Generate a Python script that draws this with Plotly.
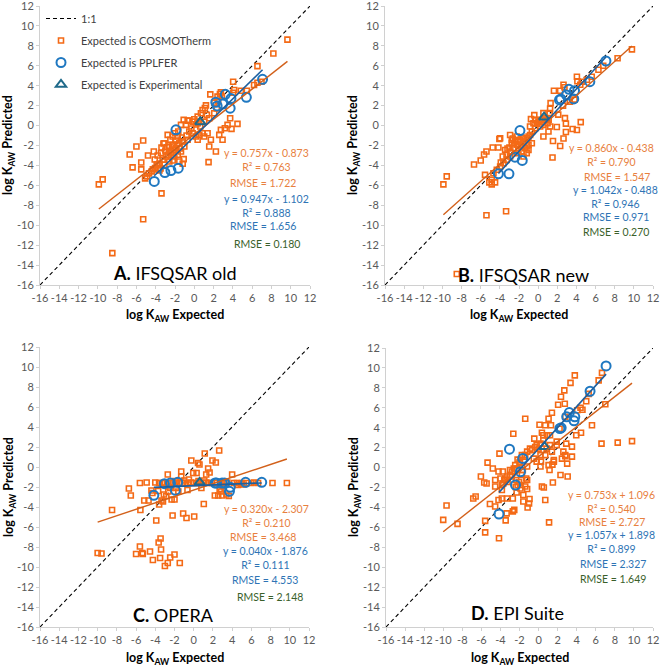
import plotly.graph_objects as go

# ---------------- data ----------------
axis_range = [-16, 12]
tick_vals = list(range(-16, 13, 2))
tick_text = [str(v) for v in tick_vals]
panel_titles = ["A.", "B.", "C.", "D."]
panel_names = ["IFSQSAR old", "IFSQSAR new", "OPERA", "EPI Suite"]

cosmo_slope = [0.757, 0.860, 0.320, 0.753]
cosmo_intercept = [-0.873, -0.438, -2.307, 1.096]
cosmo_r2 = [0.763, 0.790, 0.210, 0.540]
cosmo_rmse = [1.722, 1.547, 3.468, 2.727]
pplfer_slope = [0.947, 1.042, 0.040, 1.057]
pplfer_intercept = [-1.102, -0.488, -1.876, 1.898]
pplfer_r2 = [0.888, 0.946, 0.111, 0.899]
pplfer_rmse = [1.656, 0.971, 4.553, 2.327]
exp_rmse = [0.180, 0.270, 2.148, 1.649]

# Expected is COSMOTherm (x = expected, y = predicted)
a_cosmo = [(-9.9,-5.9),(-9.5,-5.4),(-8.5,-12.8),(-6.7,-2.9),(-6.4,-4.2),(-6.0,-2.1),(-5.5,-3.7),(-5.3,-1.5),
           (-5.5,-4.4),(-5.3,-9.4),(-4.8,-3.0),(-5.1,-5.3),(-4.9,-5.1),(-4.7,-4.8),(-4.3,-4.4),(-4.2,-2.6),
           (-4.1,-3.4),(-3.8,-3.0),(-3.6,-3.8),(-3.4,-6.8),(-3.2,-1.8),(-3.5,-4.3),(-3.9,-3.9),(-3.45,-2.77),
           (-3.28,-3.43),(-3.8,-3.93),(-4.07,-4.27),(-4.41,-4.6),(-3.62,-4.5),(-2.93,-3.1),(-2.76,-2.93),
           (-2.41,-2.77),(-2.07,-3.1),(-2.59,-3.6),(-3.1,-3.93),(-2.24,-3.5),(-1.72,-2.93),(-1.38,-2.6),
           (-1.55,-3.6),(-1.1,-3.37),(-1.2,-3.83),(-2.76,-0.93),(-3.1,-1.77),(-2.83,-2.17),(-2.59,-2.1),
           (-2.24,-1.93),(-2.14,-2.43),(-1.9,-2.27),(-1.55,-1.77),(-1.2,-1.6),(-1.03,-2.1),(-0.69,-1.43),
           (-2.48,-1.43),(-1.72,-1.1),(-2.24,-1.1),(-2.0,-0.77),(-1.66,-0.6),(-1.38,0.07),(-0.86,0.07),
           (-1.1,0.57),(-0.69,0.5),(-0.52,0.5),(-0.17,0.4),(0.0,0.63),(0.35,0.9),(0.69,1.23),(0.86,1.57),
           (1.1,1.77),(1.21,2.03),(1.66,3.13),(2.07,2.3),(2.41,2.9),(2.48,2.47),(2.66,3.17),(2.76,3.33),
           (2.86,2.9),(4.03,4.4),(4.03,3.3),(4.14,3.57),(4.83,3.5),(5.45,3.5),(6.2,4.07),(6.55,4.3),
           (6.97,4.4),(6.55,5.97),(8.2,7.23),(9.66,8.63),(-0.52,-0.6),(-0.17,-0.77),(0.17,-1.1),(0.35,-1.43),
           (0.52,-0.93),(0.86,-0.77),(1.03,-1.1),(1.38,-0.77),(1.72,-1.43),(1.55,-2.1),(2.59,-0.93),
           (2.93,-1.43),(2.76,-0.43),(3.17,-0.27),(3.45,0.07),(3.72,0.73),(3.86,-0.33),(4.48,0.17),
           (2.24,-2.6),(1.48,-3.67),(0.35,0.23),(0.62,-0.1),(1.03,0.4),(1.31,1.07),(1.55,0.73),(2.07,1.23),
           (2.34,1.73),(-1.9,-1.5),(-2.2,-2.1),(-1.5,-2.3),(-0.8,-1.0),(-0.3,-0.3),(0.2,0.1),(-3.0,-2.5),
           (-3.4,-2.2),(-2.6,-2.6),(-1.8,-1.9),(-1.3,-1.2)]
b_cosmo = [(-9.9,-5.9),(-9.55,-5.1),(-5.4,-9.0),(-3.35,-8.6),(-6.7,-3.9),(-6.0,-3.5),(-5.65,-2.9),(-5.4,-2.6),
           (-4.75,-2.2),(-5.55,-4.95),(-5.1,-5.7),(-4.85,-5.9),(-4.5,-5.7),(-4.05,-1.35),(-4.15,-2.2),
           (-3.9,-3.7),(-3.7,-3.1),(-3.45,-2.45),(-3.2,-2.3),(-3.0,-2.2),(-2.75,-1.75),(-2.4,-1.45),
           (-2.25,-1.1),(-2.65,-1.3),(-2.05,-1.6),(-1.8,-2.1),(-1.55,-1.3),(-1.2,-2.1),(-1.0,-1.1),
           (-0.85,-0.1),(-0.75,0.65),(-0.4,1.05),(-0.15,0.2),(0.2,0.55),(0.55,1.25),(0.9,0.55),(1.2,1.25),
           (1.3,2.25),(1.65,3.5),(2.3,3.5),(2.65,4.1),(2.75,3.85),(4.05,4.9),(4.1,4.45),(4.4,4.1),(4.55,4.4),
           (5.1,4.6),(5.6,4.9),(6.3,5.6),(6.8,6.0),(8.3,6.75),(9.8,7.65),(0.55,-1.1),(1.55,-1.55),(1.5,-3.2),
           (2.3,-2.05),(2.65,-1.3),(2.9,-0.65),(2.8,0.75),(2.9,0.2),(4.05,-0.45),(3.6,-0.35),(4.45,0.35),
           (1.95,-0.15),(2.1,1.1),(1.25,1.7),(2.6,2.0),(3.3,2.4),(3.8,2.6),(1.1,0.6),(-8.5,-14.9),
           (-3.97,-1.27),(-2.93,-0.94),(-2.75,-1.44),(-2.4,-1.6),(-2.58,-2.27),(-2.06,-1.94),(-1.88,-1.44),
           (-1.53,-1.6),(-2.06,-2.44),(-1.71,-2.6),(-1.36,-2.27),(-1.01,-1.94),(-1.19,-1.27),(-0.84,-0.94),
           (-0.66,-0.6),(-0.31,-0.27),(-0.49,0.23),(0.03,0.4),(0.38,0.57),(0.73,0.74),(0.98,0.23),
           (1.26,-0.1),(1.08,-0.6),(-3.28,-3.44),(-2.93,-3.1),(-3.63,-3.78),(-3.97,-4.11),(-4.32,-4.44),
           (-4.67,-4.78),(-4.85,-5.45),(-2.23,-2.77),(-1.53,-3.1),(-1.19,-2.77),(-1.01,-2.44),(-0.66,-1.77),
           (0.21,-0.1),(0.56,0.07),(-0.31,0.57),(-2.2,-1.9),(-2.5,-1.9),(-1.7,-1.2),(-2.9,-2.6),(-3.3,-2.9)]
c_cosmo = [(-10.0,-8.6),(-9.6,-8.65),(-8.5,-4.3),(-6.75,-2.15),(-6.55,-2.85),(-6.0,-8.7),(-5.6,-7.95),
           (-5.6,-1.6),(-5.55,-4.3),(-5.35,-8.6),(-5.3,-8.7),(-5.15,-3.35),(-4.9,-1.55),(-4.7,-3.35),
           (-4.55,-8.45),(-4.4,-2.35),(-4.25,-9.3),(-3.9,-5.35),(-3.65,-7.55),(-3.45,-7.15),(-3.4,-8.25),
           (-3.5,-9.1),(-3.0,-9.9),(-2.7,-9.6),(-2.45,-9.05),(-2.0,-8.75),(-1.45,-9.6),(-3.6,-3.75),
           (-3.35,-3.35),(-3.2,-3.45),(-3.1,-2.75),(-2.85,-2.9),(-2.7,-0.75),(-2.65,-2.45),(-2.45,-2.1),
           (-2.3,-3.25),(-2.2,-4.85),(-2.0,-3.25),(-1.8,-2.1),(-1.6,-2.45),(-1.3,-0.45),(-1.3,-0.95),
           (-1.1,-4.65),(-0.75,-5.1),(-0.65,-2.3),(-0.25,0.65),(0.05,-4.95),(-0.05,-0.6),(0.3,-0.6),
           (0.45,0.4),(0.6,0.25),(0.8,-2.1),(1.05,-3.7),(1.15,1.35),(1.3,-0.75),(1.5,-0.15),(1.65,-0.55),
           (1.95,0.65),(2.3,0.45),(2.65,1.65),(2.2,-2.85),(2.55,-2.85),(2.7,-2.2),(2.85,-2.45),(2.95,-2.85),
           (3.4,-2.75),(3.65,-2.9),(4.0,-0.75),(3.0,-1.9),(-4.0,-1.55),(-3.6,-1.6),(-3.3,-1.6),(-3.0,-1.55),
           (-2.7,-1.6),(-2.4,-1.6),(-2.1,-1.55),(-1.8,-1.6),(-1.5,-1.6),(-1.2,-1.6),(-0.9,-1.6),(-0.6,-1.6),
           (-0.3,-1.55),(0.0,-1.6),(0.3,-1.6),(0.7,-1.6),(1.0,-1.6),(1.3,-1.55),(1.6,-1.6),(1.9,-1.6),
           (2.4,-1.6),(2.8,-1.6),(3.2,-1.6),(3.5,-1.55),(4.2,-1.6),(4.5,-1.6),(5.0,-1.6),(5.5,-1.6),
           (6.0,-1.6),(6.3,-1.55),(6.7,-1.6),(8.2,-1.6),(9.7,-1.6),(-1.9,-1.4),(-1.0,-1.35),(-0.5,-1.25),
           (0.5,-1.4),(1.1,-1.35),(4.6,-1.8),(-4.3,-2.6),(-3.7,-2.4),(5.2,-1.75),(4.9,-1.7)]
d_cosmo = [(-10.0,-5.25),(-9.65,-3.8),(-8.5,-5.65),(-5.6,-6.5),(-4.15,-7.1),(1.1,-5.5),(-6.85,-3.1),
           (-6.6,-2.9),(-6.05,-0.9),(-5.7,-1.5),(-5.45,-1.6),(-5.6,-5.35),(-5.35,0.5),(-5.1,-3.65),
           (-4.8,-0.1),(-4.55,-1.9),(-4.55,-3.9),(-4.1,1.4),(-4.2,-3.25),(-3.85,-3.1),(-3.75,-0.4),
           (-3.7,-1.6),(-3.5,-1.1),(-3.25,-1.45),(-3.35,-4.6),(-3.45,-5.3),(-2.7,-4.4),(-2.7,-3.1),
           (-2.65,3.4),(-2.55,-4.25),(-2.4,-1.95),(-2.3,-2.5),(-3.0,-0.75),(-2.8,-0.4),(-2.05,-1.45),
           (-1.95,0.6),(-2.3,-0.1),(-2.45,0.25),(-1.75,-0.75),(-1.9,-1.75),(-1.6,-2.75),(-1.6,-3.4),
           (-1.4,4.9),(-1.3,-1.1),(-1.2,-2.15),(-1.15,-4.0),(-0.95,-3.15),(-1.0,-3.6),(-1.2,0.1),(-1.45,1.1),
           (-0.9,1.9),(-0.7,1.75),(-0.5,0.9),(-0.45,2.9),(-0.35,2.05),(-0.2,2.25),(0.0,1.9),(0.1,4.3),
           (0.2,1.25),(0.25,0.6),(0.35,3.5),(0.5,3.25),(0.7,-3.25),(0.55,-2.0),(0.35,-1.9),(0.7,4.25),
           (0.85,1.9),(1.05,4.9),(1.2,3.25),(1.3,4.25),(1.4,5.5),(1.45,0.3),(1.5,-1.5),(1.15,-0.25),
           (1.6,0.6),(1.9,2.25),(2.05,6.3),(2.2,3.9),(2.3,-0.75),(2.35,7.1),(2.6,1.6),(2.7,7.75),(2.75,6.4),
           (2.8,5.1),(2.8,1.15),(2.9,2.4),(3.0,0.4),(3.05,-0.9),(3.35,8.5),(3.5,2.1),(3.5,1.1),(3.8,9.25),
           (3.95,3.25),(4.05,5.75),(4.4,6.0),(4.45,3.5),(4.6,5.8),(5.0,6.65),(5.25,7.4),(5.6,4.25),(6.3,8.75),
           (6.65,9.5),(7.0,6.35),(6.6,2.4),(8.3,2.5),(9.8,2.65),(-4.0,-1.1),(-3.6,-1.25),(-3.3,-0.9),
           (-3.0,-0.25),(-2.8,-0.9),(-2.6,-0.1),(-2.2,0.8),(-2.0,0.5),(-1.75,1.25),(-1.4,1.25),(-1.2,1.6),
           (-1.65,-0.25),(-2.35,-1.25),(-2.2,-1.75),(-1.9,-2.1),(-1.4,-1.9),(-1.2,-1.25),(-3.85,-2.25),
           (-3.3,-3.1),(-3.85,-1.75),(-4.2,-0.4),(-4.55,-1.25),(0.2,2.4),(0.5,2.75),(0.9,3.25),(1.2,2.25),
           (-0.2,0.6),(0.2,0.1),(0.7,1.25),(1.4,1.6),(1.9,2.6),(1.05,0.25),(1.6,0.75),(2.45,0.9),(2.8,1.25)]
cosmo_points = [a_cosmo, b_cosmo, c_cosmo, d_cosmo]

# Expected is PPLFER
pplfer_x = [-4.15, -3.05, -2.42, -1.66, -1.9, 2.23, 2.37, 3.22, 2.95, 3.8, 3.72, 5.4, 7.08]
pplfer_y_a = [-5.61, -4.71, -4.51, -4.28, -0.43, 2.34, 1.97, 3.14, 2.17, 2.71, 1.74, 2.84, 4.64]
pplfer_y_b = [-4.84, -4.84, -3.17, -3.5, -0.5, 2.57, 2.67, 3.64, 3.07, 3.5, 2.67, 4.41, 6.48]
pplfer_y_c = [-2.83, -1.67, -1.6, -1.53, -2.33, -1.6, -1.6, -1.6, -1.6, -2.03, -2.43, -1.53, -1.53]
pplfer_y_d = [-4.66, 1.85, -1.75, 0.92, -0.42, 3.92, 3.99, 5.52, 5.09, 5.09, 4.69, 7.66, 10.2]
pplfer_y = [pplfer_y_a, pplfer_y_b, pplfer_y_c, pplfer_y_d]

# Expected is Experimental
exp_x = [0.62]
exp_y = [[0.37], [0.84], [-1.53], [2.09]]

# ---------------- style / layout ----------------
W, H = 661, 667
ORANGE = "#F46A16"
BLUE = "#1F78C1"
TEAL = "#1F6A8A"
ORANGE_LINE = "#D2601A"
BLUE_LINE = "#1D5F9E"
ORANGE_TXT = "#E8803E"
BLUE_TXT = "#2E74B5"
GREEN_TXT = "#3A5F2A"
FONT = "Lato, Open Sans, sans-serif"

# plot areas in pixels: (left, right, top, bottom)
areas = [(40, 310, 6, 285), (385, 653, 6, 285), (40, 309, 347, 627), (386, 653, 348, 627)]
# per panel: centre of (eq+R2 block orange), RMSE orange, (eq+R2 block blue), RMSE blue, RMSE green
stat_pos = [
    [(266, 160), (263, 183), (266, 206), (263, 226), (267, 244)],
    [(611, 155), (617, 177), (615, 197), (616, 217), (616, 232)],
    [(266, 516), (263, 537), (265, 558), (265, 580), (270, 597)],
    [(611, 502), (612, 522), (611, 542), (613, 564), (613, 579)],
]
title_pos = [(175, 273), (523, 275), (173, 615), (517, 613)]
ytitle_pos = [(9, 145), (354, 145), (9, 487), (354, 487)]
xtitle_pos = [(175, 316), (519, 316), (175, 658), (520, 658)]


def px(x):
    return x / W


def py(y):
    return 1 - y / H


fig = go.Figure()
annotations = []
layout_axes = {}

for i in range(4):
    sfx = "" if i == 0 else str(i + 1)
    xa, ya = "x" + sfx, "y" + sfx
    l, r, t, b = areas[i]
    common = dict(range=axis_range, tickmode="array", tickvals=tick_vals, ticktext=tick_text,
                  automargin=False, showgrid=False, zeroline=False, showline=True,
                  linecolor="#D0D0D0", linewidth=1, ticks="outside", ticklen=3,
                  tickcolor="#D0D0D0", tickangle=0,
                  tickfont=dict(family=FONT, size=11, color="#595959"), fixedrange=True)
    layout_axes["xaxis" + sfx] = dict(common, domain=[px(l), px(r)], anchor=ya)
    layout_axes["yaxis" + sfx] = dict(common, domain=[py(b), py(t)], anchor=xa)
    show = i == 0

    fig.add_trace(go.Scatter(x=axis_range, y=axis_range, mode="lines", name="1:1",
                             line=dict(color="black", width=1.1, dash="4px,3px"),
                             xaxis=xa, yaxis=ya, showlegend=show, legendgroup="g1", hoverinfo="skip"))
    cx = [p[0] for p in cosmo_points[i]]
    cy = [p[1] for p in cosmo_points[i]]
    fig.add_trace(go.Scatter(x=cx, y=cy, mode="markers", name="Expected is COSMOTherm",
                             marker=dict(symbol="square-open", size=5, color=ORANGE,
                                         line=dict(color=ORANGE, width=1.6)),
                             xaxis=xa, yaxis=ya, showlegend=show, legendgroup="g2"))
    fig.add_trace(go.Scatter(x=pplfer_x, y=pplfer_y[i], mode="markers", name="Expected is PPLFER",
                             marker=dict(symbol="circle-open", size=9, color=BLUE,
                                         line=dict(color=BLUE, width=2)),
                             xaxis=xa, yaxis=ya, showlegend=show, legendgroup="g3"))
    fig.add_trace(go.Scatter(x=exp_x, y=exp_y[i], mode="markers", name="Expected is Experimental",
                             marker=dict(symbol="triangle-up-open", size=9, color=TEAL,
                                         line=dict(color=TEAL, width=2)),
                             xaxis=xa, yaxis=ya, showlegend=show, legendgroup="g4"))
    xo = [min(cx), max(cx)]
    fig.add_trace(go.Scatter(x=xo, y=[cosmo_slope[i] * v + cosmo_intercept[i] for v in xo],
                             mode="lines", line=dict(color=ORANGE_LINE, width=1.4),
                             xaxis=xa, yaxis=ya, showlegend=False, hoverinfo="skip"))
    xb = [min(pplfer_x), max(pplfer_x)]
    fig.add_trace(go.Scatter(x=xb, y=[pplfer_slope[i] * v + pplfer_intercept[i] for v in xb],
                             mode="lines", line=dict(color=BLUE_LINE, width=1.6),
                             xaxis=xa, yaxis=ya, showlegend=False, hoverinfo="skip"))

    def eq(s, c):
        sign = "-" if c < 0 else "+"
        return f"y = {s:.3f}x {sign} {abs(c):.3f}"

    texts = [
        (f"{eq(cosmo_slope[i], cosmo_intercept[i])}<br>R² = {cosmo_r2[i]:.3f}", ORANGE_TXT),
        (f"RMSE = {cosmo_rmse[i]:.3f}", ORANGE_TXT),
        (f"{eq(pplfer_slope[i], pplfer_intercept[i])}<br>R² = {pplfer_r2[i]:.3f}", BLUE_TXT),
        (f"RMSE = {pplfer_rmse[i]:.3f}", BLUE_TXT),
        (f"RMSE = {exp_rmse[i]:.3f}", GREEN_TXT),
    ]
    for (txt, col), (ax_, ay_) in zip(texts, stat_pos[i]):
        annotations.append(dict(x=px(ax_), y=py(ay_), xref="paper", yref="paper", text=txt,
                                showarrow=False, xanchor="center", yanchor="middle", align="center",
                                font=dict(family=FONT, size=10.5, color=col)))
    tx, ty = title_pos[i]
    annotations.append(dict(x=px(tx), y=py(ty), xref="paper", yref="paper",
                            text=f"<b>{panel_titles[i]}</b> {panel_names[i]}", showarrow=False,
                            xanchor="center", yanchor="middle",
                            font=dict(family=FONT, size=18, color="black")))
    yx, yy = ytitle_pos[i]
    annotations.append(dict(x=px(yx), y=py(yy), xref="paper", yref="paper",
                            text="<b>log K<sub>AW</sub> Predicted</b>", showarrow=False,
                            textangle=-90, xanchor="center", yanchor="middle",
                            font=dict(family=FONT, size=12.5, color="black")))
    xx, xy = xtitle_pos[i]
    annotations.append(dict(x=px(xx), y=py(xy), xref="paper", yref="paper",
                            text="<b>log K<sub>AW</sub> Expected</b>", showarrow=False,
                            xanchor="center", yanchor="middle",
                            font=dict(family=FONT, size=12.5, color="black")))

fig.update_layout(
    width=W, height=H, margin=dict(l=0, r=0, t=0, b=0, autoexpand=False),
    paper_bgcolor="white", plot_bgcolor="white",
    annotations=annotations,
    legend=dict(x=px(41), y=py(4), xanchor="left", yanchor="top", bgcolor="rgba(0,0,0,0)",
                font=dict(family=FONT, size=11, color="#404040"), tracegroupgap=3,
                itemsizing="trace"),
    **layout_axes,
)

fig.write_html("out.html", config={"displayModeBar": False},
               post_script="document.body.style.margin='0';document.body.style.overflow='hidden';")
